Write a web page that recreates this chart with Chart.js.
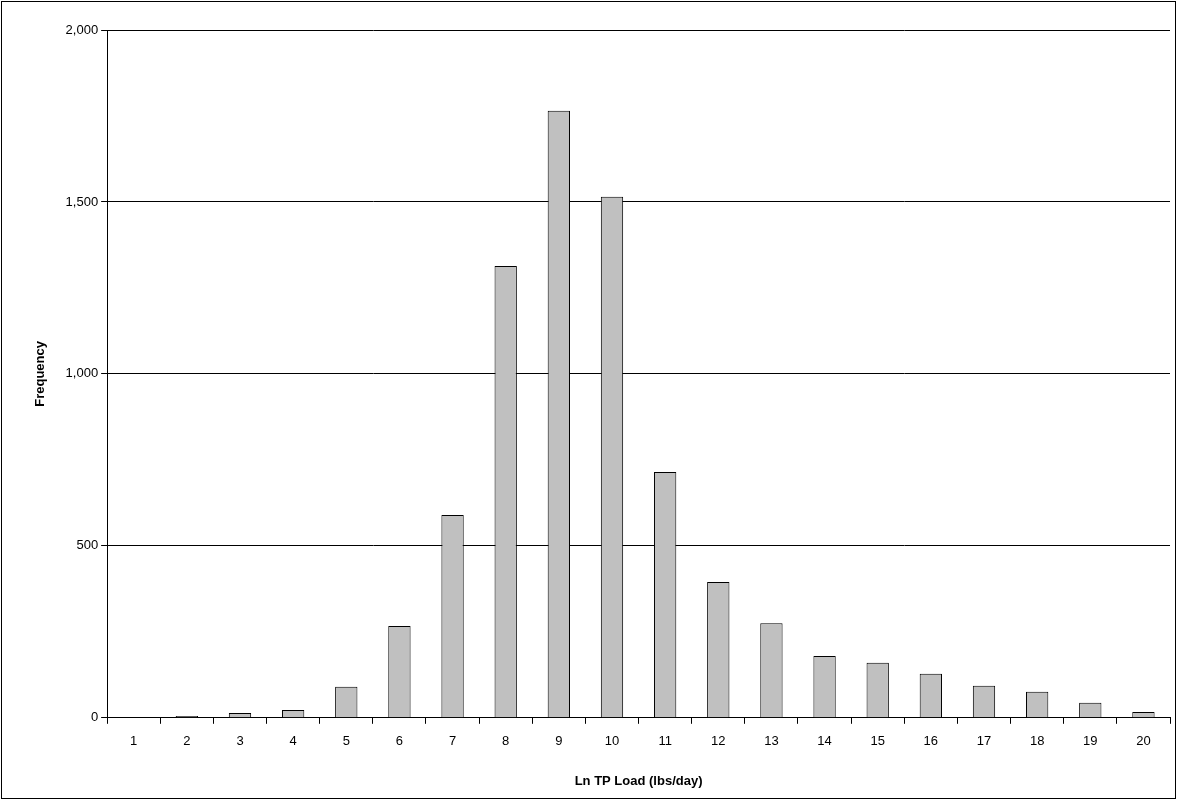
<!DOCTYPE html>
<html>
<head>
<meta charset="utf-8">
<script src="https://cdn.jsdelivr.net/npm/chart.js@4"></script>
<style>
  html, body { margin: 0; padding: 0; background: #fff; }
  #wrap { position: absolute; left: 1px; top: 1px; width: 1173px; height: 796px; border: 1px solid #000; }
</style>
</head>
<body>
<div id="wrap"><canvas id="c" width="1173" height="796"></canvas></div>
<script>
const categories = ["1","2","3","4","5","6","7","8","9","10","11","12","13","14","15","16","17","18","19","20"];
const frequency = [0, 5, 14, 23, 90, 267, 590, 1314, 1765, 1515, 715, 395, 275, 180, 160, 128, 93, 76, 44, 17];

Chart.defaults.font.family = "'Liberation Sans', Arial, sans-serif";
Chart.defaults.color = "#000";

new Chart(document.getElementById("c").getContext("2d"), {
  type: "bar",
  data: {
    labels: categories,
    datasets: [{
      data: frequency,
      backgroundColor: "#c0c0c0",
      borderColor: "#000",
      borderWidth: 1,
      barPercentage: 0.42,
      categoryPercentage: 1.0,
    }],
  },
  options: {
    responsive: false,
    animation: false,
    layout: { padding: { left: 27, right: 5, top: 28, bottom: 5 } },
    plugins: { legend: { display: false }, tooltip: { enabled: false } },
    scales: {
      x: {
        grid: { display: true, offset: true, drawOnChartArea: false, color: "#000", tickLength: 6 },
        border: { color: "#000" },
        ticks: { font: { size: 13 }, padding: 10 },
        title: { display: true, text: "Ln TP Load (lbs/day)", font: { size: 13, weight: "bold" }, padding: { top: 14 } },
      },
      y: {
        min: 0, max: 2000,
        grid: { color: "#000", tickLength: 6 },
        border: { color: "#000" },
        ticks: { stepSize: 500, font: { size: 13 }, callback: (v) => v.toLocaleString("en-US") },
        title: { display: true, text: "Frequency", font: { size: 13, weight: "bold" }, padding: { bottom: 14 } },
      },
    },
  },
});
</script>
</body>
</html>
